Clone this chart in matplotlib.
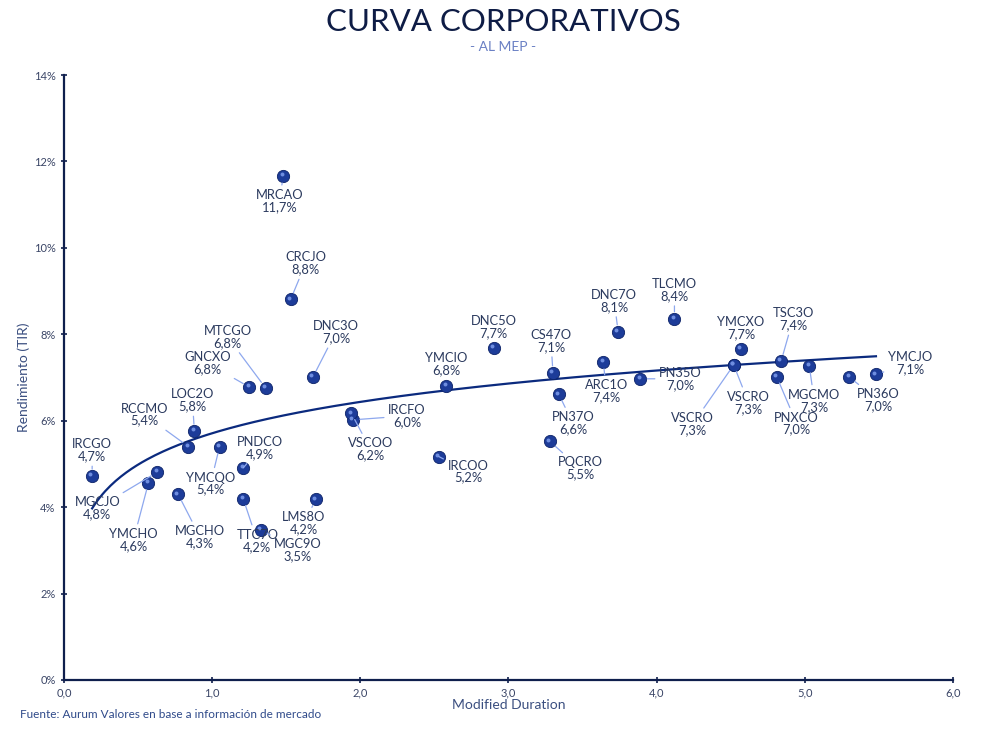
import numpy as np
import matplotlib
matplotlib.use("Agg")
import matplotlib.pyplot as plt
from matplotlib.ticker import FuncFormatter

# ---- data ----
names = ["IRCGO", "MGCJO", "YMCHO", "MGCHO", "RCCMO", "LOC2O", "YMCQO", "PNDCO",
         "TTC7O", "MGC9O", "LMS8O", "GNCXO", "MTCGO", "DNC3O", "MRCAO", "CRCJO",
         "IRCFO", "VSCOO", "YMCIO", "DNC5O", "IRCOO", "CS47O", "PQCRO", "PN37O",
         "ARC1O", "DNC7O", "TLCMO", "PN35O", "YMCXO", "VSCRO", "VSCRO", "TSC3O",
         "MGCMO", "PNXCO", "PN36O", "YMCJO"]
duration = [0.19, 0.63, 0.57, 0.77, 0.84, 0.88, 1.05, 1.21,
            1.21, 1.33, 1.70, 1.25, 1.36, 1.68, 1.48, 1.53,
            1.95, 1.94, 2.58, 2.90, 2.53, 3.30, 3.28, 3.34,
            3.64, 3.74, 4.12, 3.89, 4.57, 4.52, 4.52, 4.84,
            5.03, 4.81, 5.30, 5.48]
ytm = [4.72, 4.81, 4.56, 4.30, 5.40, 5.76, 5.40, 4.91,
       4.19, 3.47, 4.18, 6.78, 6.76, 7.01, 11.66, 8.81,
       6.02, 6.17, 6.80, 7.69, 5.17, 7.11, 5.52, 6.61,
       7.36, 8.06, 8.36, 6.97, 7.66, 7.29, 7.29, 7.38,
       7.27, 7.02, 7.01, 7.07]
x_ticks = [0, 1, 2, 3, 4, 5, 6]
y_ticks = [0, 2, 4, 6, 8, 10, 12, 14]

# label offsets in pixels (dx right, dy down)
label_offsets = [(0, -26), (-60, 36), (-15, 57), (22, 43), (-44, -32), (-2, -31), (-9, 37), (17, -20),
                 (14, 42), (37, 20), (-12, 24), (-42, -24), (-38, -51), (23, -45), (-4, 25), (15, -36),
                 (54, -4), (19, 36), (0, -22), (0, -21), (29, 15), (-2, -32), (30, 27), (14, 29),
                 (3, 29), (-4, -31), (0, -29), (40, 0), (0, -21), (-41, 59), (15, 38), (12, -42),
                 (5, 35), (20, 47), (29, 23), (34, -11)]

NAVY = "#0f1f4d"
TXT = "#2b3a5e"
LEADER = "#8ea8ee"
DOT = "#1d3c99"
CURVE = "#0b2a7e"

plt.rcParams['font.family'] = ['Lato', 'DejaVu Sans']

fig = plt.figure(figsize=(10.07, 7.30), dpi=100)
ax = fig.add_axes([64 / 1007, 1 - 680 / 730, (953 - 64) / 1007, (680 - 75) / 730])

# trend line: logarithmic fit of the data
dx = np.array(duration)
dy = np.array(ytm)
b, a = np.polyfit(np.log(dx), dy, 1)
xs = np.linspace(dx.min(), dx.max(), 300)
ax.plot(xs, a + b * np.log(xs), color=CURVE, lw=1.6, zorder=2)

# points
ax.scatter(dx, dy, s=78, color=DOT, edgecolor="#0d2368", linewidth=0.6, zorder=4)
ax.scatter(dx, dy, s=8, color="#6f8ee0", linewidth=0, zorder=5,
           transform=ax.transData + matplotlib.transforms.ScaledTranslation(-1.2 / 72, 1.2 / 72, fig.dpi_scale_trans))

for n, x, y, (ox, oy) in zip(names, duration, ytm, label_offsets):
    txt = f"{n}\n{y:.1f}%".replace(".", ",")
    dist = np.hypot(ox, oy)
    arrow = dict(arrowstyle="-", color=LEADER, lw=0.9, shrinkA=1, shrinkB=5) if dist > 24 else None
    ax.annotate(txt, xy=(x, y), xytext=(ox, -oy), textcoords="offset pixels",
                ha="center", va="center", fontsize=9.3, color=TXT, linespacing=1.0,
                arrowprops=arrow, zorder=6)

ax.set_xlim(0, 6)
ax.set_ylim(0, 14)
ax.set_xticks(x_ticks)
ax.set_yticks(y_ticks)
ax.xaxis.set_major_formatter(FuncFormatter(lambda v, p: f"{v:.1f}".replace(".", ",")))
ax.yaxis.set_major_formatter(FuncFormatter(lambda v, p: f"{v:.0f}%"))
for s in ["top", "right"]:
    ax.spines[s].set_visible(False)
for s in ["left", "bottom"]:
    ax.spines[s].set_color(NAVY)
    ax.spines[s].set_linewidth(1.6)
ax.tick_params(axis="both", direction="inout", length=4, width=1.2, color=NAVY,
               labelsize=8, labelcolor="#3a4566")
ax.tick_params(axis="x", pad=3)
ax.tick_params(axis="y", pad=4)

ax.set_xlabel("Modified Duration", fontsize=10, color="#3b4f80", labelpad=1)
ax.set_ylabel("Rendimiento (TIR)", fontsize=10, color="#3b4f80", labelpad=3)

fig.text(0.5, 1 - 22 / 730, "CURVA CORPORATIVOS", ha="center", va="center",
         fontsize=22.5, fontweight="normal", color="#0e1c45")
fig.text(0.5, 1 - 47 / 730, "- AL MEP -", ha="center", va="center",
         fontsize=10, color="#6a80c4")
fig.text(20 / 1007, 1 - 715 / 730, "Fuente: Aurum Valores en base a información de mercado",
         ha="left", va="center", fontsize=8.5, color="#2f4a8a")

fig.savefig("out.png", dpi=100)
